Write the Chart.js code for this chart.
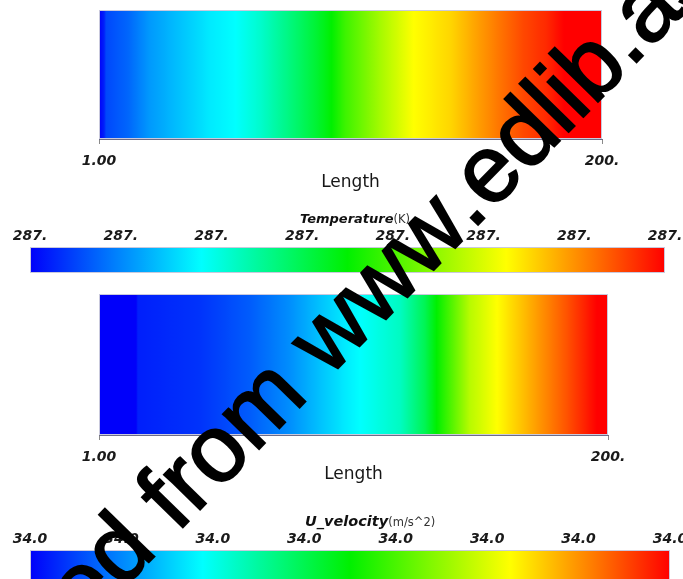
<!DOCTYPE html>
<html>
<head>
<meta charset="utf-8">
<script src="https://cdn.jsdelivr.net/npm/chart.js@4.4.0/dist/chart.umd.min.js"></script>
<style>
  html, body { margin: 0; padding: 0; background: #ffffff; }
  body { width: 683px; height: 579px; position: relative; overflow: hidden; }
  canvas { position: absolute; left: 0; }
  .cbtitle { position: absolute; white-space: nowrap; font-family: "DejaVu Sans", sans-serif; line-height: 16px; color: #111; }
  .cbtitle b { font-weight: bold; font-style: italic; }
  .cbtitle span { font-weight: normal; font-size: 11.5px; color: #333; }
  #wm { position: absolute; left: 0; top: 0; pointer-events: none; }
</style>
</head>
<body>
<canvas id="c1" width="683" height="200" style="top:0px"></canvas>
<canvas id="c2" width="683" height="85" style="top:200px"></canvas>
<canvas id="c3" width="683" height="215" style="top:285px"></canvas>
<canvas id="c4" width="683" height="100" style="top:500px"></canvas>

<div class="cbtitle" style="left:300px; top:210px;"><b style="font-size:13px">Temperature</b><span>(K)</span></div>
<div class="cbtitle" style="left:305px; top:513px;"><b style="font-size:14.5px">U_velocity</b><span>(m/s^2)</span></div>

<svg id="wm" width="683" height="579">
  <g transform="translate(472,231) rotate(-45.7)" font-family="Liberation Sans, Arial, sans-serif" font-size="95" fill="#000" stroke="#000" stroke-width="2">
    <text x="0" y="0" text-anchor="end">Downloaded from www</text>
    <text x="0" y="0">.edlib.asia</text>
  </g>
</svg>

<script>
// ---------------- data ----------------
const lengthRange = [1, 200];
const lengthTickLabels = ['1.00', '200.'];

// Temperature field (normalised colour value) along Length
const tempLength = [1, 3, 3.8, 12.5, 21, 33, 45, 55, 65, 77, 87, 93, 98.5, 112, 125.5, 140, 152, 169, 178, 185, 200];
const tempField  = [0, 0.03, 0.07, 0.10, 0.15, 0.19, 0.23, 0.25, 0.30, 0.38, 0.45, 0.50, 0.56, 0.66, 0.75, 0.79, 0.85, 0.93, 0.96, 1.0, 1.0];

// U_velocity field (normalised colour value) along Length
const velLength = [1, 15.5, 16.2, 40.5, 60, 75.7, 87.4, 97.2, 103, 118.7, 128.5, 133, 146, 156.6, 169.5, 184, 195.7, 200];
const velField  = [0, 0, 0.03, 0.05, 0.09, 0.14, 0.19, 0.23, 0.25, 0.31, 0.42, 0.50, 0.68, 0.75, 0.83, 0.92, 1.0, 1.0];

// colour bars
const colorbarPos = [0, 0.27, 0.5, 0.75, 1];
const colorbarVal = [0, 0.25, 0.5, 0.75, 1];
const colorbarTickPos = [0, 0.1429, 0.2857, 0.4286, 0.5714, 0.7143, 0.8571, 1];
const tempTickLabels = ['287.', '287.', '287.', '287.', '287.', '287.', '287.', '287.'];
const velTickLabels  = ['34.0', '34.0', '34.0', '34.0', '34.0', '34.0', '34.0', '34.0'];

// ---------------- colour map ----------------
const CMAP = [[0, [0, 0, 250]], [0.25, [0, 255, 255]], [0.5, [0, 240, 0]], [0.75, [255, 255, 0]], [1, [255, 0, 0]]];
function cmap(v) {
  v = Math.max(0, Math.min(1, v));
  for (let i = 1; i < CMAP.length; i++) {
    if (v <= CMAP[i][0]) {
      const a = CMAP[i - 1], b = CMAP[i];
      const t = (v - a[0]) / (b[0] - a[0]);
      const c = a[1].map((ca, k) => Math.round(ca + (b[1][k] - ca) * t));
      return 'rgb(' + c.join(',') + ')';
    }
  }
  return 'rgb(255,0,0)';
}

function fieldGradient(context, positions, values) {
  const chart = context.chart;
  const area = chart.chartArea;
  const xs = chart.scales.x;
  if (!area || !xs) return 'rgba(0,0,0,0)';
  const w = area.right - area.left;
  const g = chart.ctx.createLinearGradient(area.left, 0, area.right, 0);
  const clamp = f => Math.max(0, Math.min(1, f));
  const steps = 8;
  for (let i = 0; i < positions.length - 1; i++) {
    const p0 = xs.getPixelForValue(positions[i]);
    const p1 = xs.getPixelForValue(positions[i + 1]);
    for (let s = 0; s < steps; s++) {
      const t = s / steps;
      g.addColorStop(clamp((p0 + (p1 - p0) * t - area.left) / w), cmap(values[i] + (values[i + 1] - values[i]) * t));
    }
  }
  const last = positions.length - 1;
  g.addColorStop(clamp((xs.getPixelForValue(positions[last]) - area.left) / w), cmap(values[last]));
  return g;
}

const framePlugin = {
  id: 'frame',
  afterDatasetsDraw(chart, args, opts) {
    if (!opts || !opts.color) return;
    const { ctx, chartArea: a } = chart;
    ctx.save();
    ctx.strokeStyle = opts.color;
    ctx.lineWidth = 1;
    ctx.strokeRect(a.left + 0.5, a.top + 0.5, a.right - a.left - 1, a.bottom - a.top - 1);
    ctx.restore();
  }
};

function fieldDataset(positions, values) {
  return {
    data: positions.map(p => ({ x: p, y: 1 })),
    fill: 'origin',
    pointRadius: 0,
    borderWidth: 0,
    borderColor: 'rgba(0,0,0,0)',
    tension: 0,
    backgroundColor: ctx => fieldGradient(ctx, positions, values)
  };
}

const tickFont = { family: 'DejaVu Sans', size: 14, style: 'italic', weight: 'bold' };

function plotChart(id, positions, values, pad, axisHeight, tickPad, titlePadBottom) {
  return new Chart(document.getElementById(id), {
    type: 'line',
    data: { datasets: [fieldDataset(positions, values)] },
    options: {
      responsive: false,
      animation: false,
      events: [],
      layout: { padding: pad },
      plugins: { legend: { display: false }, tooltip: { enabled: false }, frame: { color: '#c9c9dd' } },
      scales: {
        x: {
          type: 'linear',
          min: lengthRange[0],
          max: lengthRange[1],
          afterBuildTicks: s => { s.ticks = lengthRange.map(v => ({ value: v })); },
          afterFit: s => { s.height = axisHeight; s.paddingLeft = 0; s.paddingRight = 0; },
          ticks: {
            autoSkip: false, maxRotation: 0, padding: tickPad,
            color: '#1a1a1a', font: tickFont,
            callback: (v, i) => lengthTickLabels[i]
          },
          grid: { display: true, drawOnChartArea: false, drawTicks: true, tickLength: 5, color: '#8a8a8a' },
          border: { display: true, color: '#6c6c88', width: 1 },
          title: {
            display: true, text: 'Length', color: '#161616',
            font: { family: 'DejaVu Sans', size: 17 },
            padding: { top: 0, bottom: titlePadBottom }
          }
        },
        y: { type: 'linear', min: 0, max: 1, display: false }
      }
    },
    plugins: [framePlugin]
  });
}

function colorbarChart(id, labels, pad, axisHeight) {
  return new Chart(document.getElementById(id), {
    type: 'line',
    data: { datasets: [fieldDataset(colorbarPos, colorbarVal)] },
    options: {
      responsive: false,
      animation: false,
      events: [],
      layout: { padding: pad },
      plugins: { legend: { display: false }, tooltip: { enabled: false }, frame: { color: '#c9c9dd' } },
      scales: {
        x: {
          type: 'linear',
          position: 'top',
          min: 0,
          max: 1,
          afterBuildTicks: s => { s.ticks = colorbarTickPos.map(v => ({ value: v })); },
          afterFit: s => { s.height = axisHeight; s.paddingLeft = 0; s.paddingRight = 0; },
          ticks: {
            autoSkip: false, maxRotation: 0, padding: 2,
            color: '#1a1a1a', font: tickFont,
            callback: (v, i) => labels[i]
          },
          grid: { display: false, drawTicks: false },
          border: { display: false }
        },
        y: { type: 'linear', min: 0, max: 1, display: false }
      }
    },
    plugins: [framePlugin]
  });
}

plotChart('c1', tempLength, tempField, { left: 99, right: 81, top: 10, bottom: 0 }, 61, 9, 7);
colorbarChart('c2', tempTickLabels, { left: 30, right: 18, top: 0, bottom: 12 }, 47);
plotChart('c3', velLength, velField, { left: 99, right: 75, top: 9, bottom: 0 }, 65, 9, 15);
colorbarChart('c4', velTickLabels, { left: 30, right: 13, top: 0, bottom: 10 }, 50);
</script>
</body>
</html>
